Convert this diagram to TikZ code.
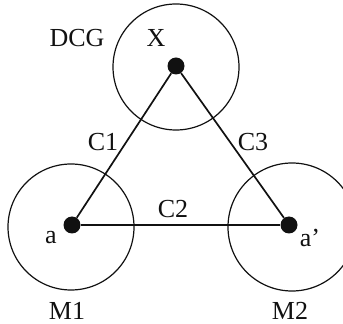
\documentclass[tikz,border=0pt]{standalone}
\usepackage{fontspec}
\setmainfont{Liberation Serif}
\usepackage{xcolor}
\definecolor{ink}{HTML}{111111}
\usetikzlibrary{positioning}

\begin{document}
\begin{tikzpicture}[
  x=1pt, y=1pt,
  font=\fontsize{26}{31}\selectfont,
  site/.style={circle, fill=ink, inner sep=0pt, minimum size=17pt},
  zone/.style={draw=ink, line width=1.2pt},
  link/.style={draw=ink, line width=1.7pt},
  label/.style={text=ink, inner sep=0pt}
]
\useasboundingbox (0,0) rectangle (343,324);

% Zones
\draw[zone] (176,257) circle (63);
\draw[zone] (71,97) circle (63);
\draw[zone] (292,97) circle (64);

% Sites
\node[site] (X) at (176,258) {};
\node[site] (a) at (72,99) {};
\node[site] (ap) at (289,99) {};

% Links
\draw[link] (X) -- (a);
\draw[link] (a) -- (ap);
\draw[link] (X) -- (ap);

% Labels
\node[label] (dcg) at (77,286) {DCG};
\node[label] (xl) at (156,286) {X};
\node[label] (c1) at (103,182) {C1};
\node[label] (c3) at (253,182) {C3};
\node[label] (c2) at (173,115) {C2};
\node[label] (al) at (51,86) {a};
\node[label] (apl) at (310,86) {a'};
\node[label] (m1) at (67,13) {M1};
\node[label] (m2) at (290,13) {M2};

\end{tikzpicture}
\end{document}
